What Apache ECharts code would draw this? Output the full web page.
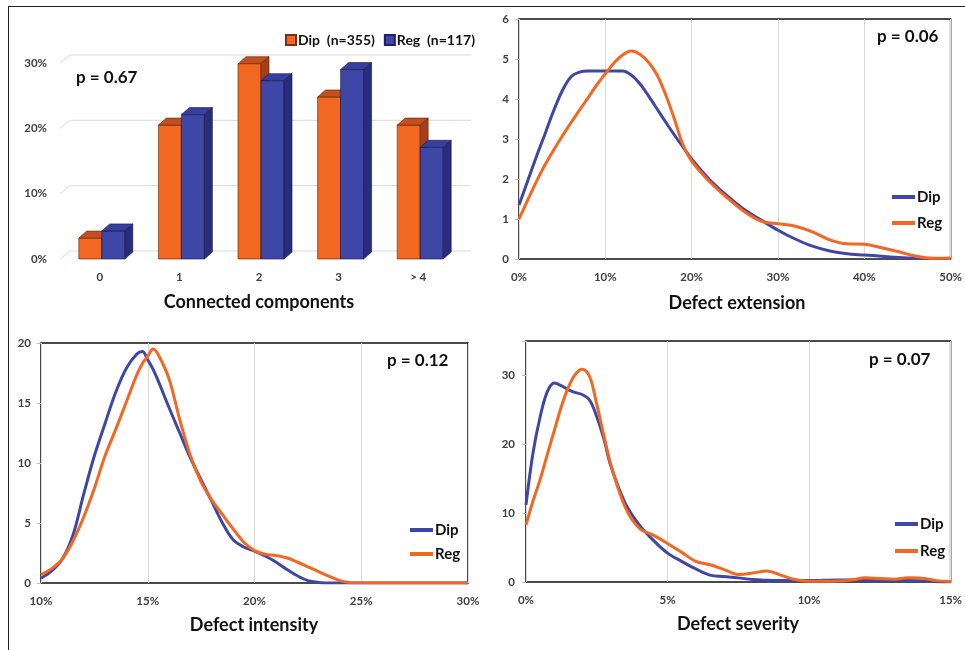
<!DOCTYPE html>
<html>
<head>
<meta charset="utf-8">
<script src="https://cdn.jsdelivr.net/npm/echarts@6/dist/echarts.min.js"></script>
<style>
  html, body { margin: 0; padding: 0; background: #fff; }
  #chart { position: absolute; left: 0; top: 0; width: 965px; height: 650px; }
  /* frame round the figure (top and left edges only, like the scan) */
  #frame { position: absolute; left: 8px; top: 6px; width: 957px; height: 644px;
           border-top: 1.5px solid #222; border-left: 1.5px solid #222; pointer-events: none; }
</style>
</head>
<body>
<div id="chart"></div>
<div id="frame"></div>
<script>
// ---- data ----
// connected components (share of patients, %)
const compCategories = ['0', '1', '2', '3', '> 4'];
const compDip = [3.2, 20.5, 29.9, 24.8, 20.5];
const compReg = [4.3, 22.1, 27.3, 29.0, 17.1];
const compTicks = [0, 10, 20, 30];

// defect extension (%), density
const extX = [0, 1, 2, 3, 4, 5, 6, 7, 8, 9, 10, 11, 12, 13, 14, 15, 16, 17, 18, 19, 20,
  22, 24, 26, 28, 30, 32, 34, 36, 38, 40, 42, 44, 46, 48, 50];
const extDip = [1.35, 1.95, 2.55, 3.12, 3.7, 4.2, 4.55, 4.67, 4.7, 4.7, 4.7, 4.7, 4.7, 4.6, 4.38,
  4.08, 3.75, 3.42, 3.1, 2.8, 2.5, 2.0, 1.6, 1.25, 0.98, 0.72, 0.5, 0.32, 0.2, 0.13, 0.1,
  0.07, 0.04, 0.02, 0.01, 0.02];
const extReg = [1.0, 1.47, 1.93, 2.35, 2.72, 3.07, 3.4, 3.72, 4.03, 4.35, 4.63, 4.9, 5.1, 5.2,
  5.12, 4.92, 4.6, 4.1, 3.5, 2.85, 2.45, 1.95, 1.55, 1.2, 0.95, 0.88, 0.82, 0.68, 0.48, 0.38,
  0.37, 0.28, 0.18, 0.07, 0.02, 0.02];

// defect intensity (%), density
const intX = [10, 10.5, 11, 11.5, 12, 12.5, 13, 13.5, 14, 14.5, 14.75, 15, 15.25, 15.5, 16, 16.5,
  17, 17.5, 18, 18.5, 19, 19.5, 20, 20.5, 21, 21.5, 22, 22.5, 23, 23.5, 24, 24.5, 25, 30];
const intDip = [0.4, 1.0, 2.0, 4.0, 7.4, 10.6, 13.3, 15.9, 17.9, 19.1, 19.3, 18.6, 17.8, 16.8,
  14.6, 12.5, 10.4, 8.6, 6.8, 5.0, 3.6, 3.0, 2.65, 2.25, 1.75, 1.15, 0.6, 0.2, 0.05, 0, 0, 0, 0, 0];
const intReg = [0.7, 1.2, 2.0, 3.5, 5.5, 7.9, 10.6, 12.8, 15.1, 17.4, 18.3, 18.9, 19.5, 19.0,
  17.0, 13.6, 10.6, 8.4, 6.9, 5.7, 4.5, 3.4, 2.7, 2.4, 2.3, 2.1, 1.75, 1.35, 0.95, 0.55, 0.2,
  0.03, 0, 0];

// defect severity (%), density
const sevX = [0, 0.25, 0.5, 0.75, 1, 1.25, 1.5, 1.75, 2, 2.25, 2.5, 2.75, 3, 3.5, 4, 4.5, 5, 5.5,
  6, 6.5, 7, 7.5, 8, 8.5, 9, 9.5, 10, 11, 11.5, 12, 12.5, 13, 13.5, 14, 14.5, 15];
const sevDip = [11.2, 18.8, 24.0, 27.6, 28.9, 28.5, 27.9, 27.5, 27.2, 26.4, 24.0, 20.8, 16.8,
  11.5, 8.3, 6.05, 4.2, 3.0, 1.9, 1.0, 0.8, 0.6, 0.35, 0.25, 0.2, 0.2, 0.2, 0.3, 0.3, 0.3, 0.25,
  0.2, 0.2, 0.15, 0.05, 0];
const sevReg = [8.3, 11.8, 14.9, 18.5, 22.0, 25.5, 28.3, 30.2, 30.9, 29.8, 25.8, 21.3, 17.0,
  10.9, 7.8, 6.8, 5.6, 4.3, 3.0, 2.5, 1.8, 1.1, 1.3, 1.6, 1.0, 0.35, 0.1, 0.15, 0.3, 0.6, 0.5,
  0.4, 0.6, 0.55, 0.2, 0.05];

// ---- styles ----
const FONT = 'Lato, "Open Sans", sans-serif';
const ORANGE = '#F26722';
const BLUE = '#3F47A6';
const BAR_W = 23;   // width of one bar front face
const DEPTH_X = 8;  // 3d depth of the bars
const DEPTH_Y = 7;

const axisLabel = { fontFamily: FONT, fontWeight: 'bold', fontSize: 11.5, color: '#404040' };

function pairs(xs, ys) { return xs.map((x, i) => [x, ys[i]]); }

function barRenderer(offset, front, top, side, edge) {
  return function (params, api) {
    const base = api.coord([api.value(0), 0]);
    const peak = api.coord([api.value(0), api.value(1)]);
    const x0 = base[0] + offset, x1 = x0 + BAR_W;
    const yb = base[1], yt = peak[1];
    const st = { stroke: edge, lineWidth: 0.6 };
    return {
      type: 'group',
      children: [
        { type: 'rect', shape: { x: x0, y: yt, width: BAR_W, height: yb - yt },
          style: Object.assign({ fill: front }, st) },
        { type: 'polygon', shape: { points: [[x0, yt], [x1, yt], [x1 + DEPTH_X, yt - DEPTH_Y], [x0 + DEPTH_X, yt - DEPTH_Y]] },
          style: Object.assign({ fill: top }, st) },
        { type: 'polygon', shape: { points: [[x1, yt], [x1 + DEPTH_X, yt - DEPTH_Y], [x1 + DEPTH_X, yb - DEPTH_Y], [x1, yb]] },
          style: Object.assign({ fill: side }, st) }
      ]
    };
  };
}

// back wall gridlines of the 3d bar chart
function wallRenderer(params, api) {
  const cs = params.coordSys;
  const y = api.coord([0, api.value(1)])[1];
  return {
    type: 'polyline',
    shape: { points: [[cs.x, y], [cs.x + 10, y - 8], [cs.x + cs.width + 13, y - 8]] },
    style: { stroke: '#d9d9d9', lineWidth: 1, fill: null }
  };
}

function lineSeries(name, color, idx, data) {
  return {
    name: name, type: 'line', xAxisIndex: idx, yAxisIndex: idx,
    data: data, smooth: 0.35, symbol: 'none',
    itemStyle: { color: color },
    lineStyle: { color: color, width: 3 }
  };
}

function lineLegend(left, top, gap) {
  return {
    data: ['Dip', 'Reg'], orient: 'vertical', left: left, top: top,
    icon: 'rect', itemWidth: 23, itemHeight: 4, itemGap: gap,
    textStyle: { fontFamily: FONT, fontWeight: 'bold', fontSize: 15, color: '#111', lineHeight: 18, padding: [0, 0, 0, -3] },
    selectedMode: false
  };
}

function textEl(text, x, y, size, align) {
  return {
    type: 'text', x: x, y: y, silent: true,
    style: { text: text, fill: '#111', font: 'bold ' + size + 'px ' + FONT,
             align: align || 'center', verticalAlign: 'middle' }
  };
}

const lineGrid = { show: true, borderColor: '#111', borderWidth: 1.5, backgroundColor: 'transparent' };
const vSplit = { show: true, lineStyle: { color: '#d9d9d9', width: 1 } };
const yTick = { show: true, length: 4, lineStyle: { color: '#bfbfbf' } };

const chart = echarts.init(document.getElementById('chart'));

chart.setOption({
  backgroundColor: '#fff',
  animation: false,
  grid: [
    { left: 60, top: 63, width: 398, height: 196 },
    Object.assign({ left: 519, top: 19, width: 432, height: 240 }, lineGrid),
    Object.assign({ left: 41, top: 343, width: 427, height: 240 }, lineGrid),
    Object.assign({ left: 526, top: 341, width: 425, height: 241 }, lineGrid)
  ],
  xAxis: [
    { gridIndex: 0, type: 'category', data: compCategories,
      axisLine: { show: false }, axisTick: { show: false },
      axisLabel: Object.assign({ margin: 12 }, axisLabel) },
    { gridIndex: 1, type: 'value', min: 0, max: 50, interval: 10,
      axisLine: { show: false }, axisTick: { show: false }, splitLine: vSplit,
      axisLabel: Object.assign({ margin: 12, formatter: '{value}%' }, axisLabel) },
    { gridIndex: 2, type: 'value', min: 10, max: 30, interval: 5,
      axisLine: { show: false }, axisTick: { show: false }, splitLine: vSplit,
      axisLabel: Object.assign({ margin: 12, formatter: '{value}%' }, axisLabel) },
    { gridIndex: 3, type: 'value', min: 0, max: 15, interval: 5,
      axisLine: { show: false }, axisTick: { show: false }, splitLine: vSplit,
      axisLabel: Object.assign({ margin: 12, formatter: '{value}%' }, axisLabel) }
  ],
  yAxis: [
    { gridIndex: 0, type: 'value', min: 0, max: 30, interval: 10,
      axisLine: { show: false }, axisTick: { show: false }, splitLine: { show: false },
      axisLabel: Object.assign({ margin: 13, formatter: '{value}%', padding: [6, 0, 0, 0] }, axisLabel) },
    { gridIndex: 1, type: 'value', min: 0, max: 6, interval: 1,
      axisLine: { show: false }, axisTick: yTick, splitLine: { show: false },
      axisLabel: Object.assign({ margin: 10 }, axisLabel) },
    { gridIndex: 2, type: 'value', min: 0, max: 20, interval: 5,
      axisLine: { show: false }, axisTick: yTick, splitLine: { show: false },
      axisLabel: Object.assign({ margin: 10 }, axisLabel) },
    { gridIndex: 3, type: 'value', min: 0, max: 35, interval: 10,
      axisLine: { show: false }, axisTick: yTick, splitLine: { show: false },
      axisLabel: Object.assign({ margin: 11, formatter: v => (v % 10 === 0 ? String(v) : '') }, axisLabel) }
  ],
  legend: [
    { data: ['Dip  (n=355)', 'Reg  (n=117)'], left: 280, top: 28, icon: 'rect',
      itemWidth: 10, itemHeight: 10, itemGap: 9, selectedMode: false,
      textStyle: { fontFamily: FONT, fontWeight: 'bold', fontSize: 14, color: '#111', padding: [0, 0, 0, -3] } },
    lineLegend(887, 183, 8),
    lineLegend(405, 516, 6),
    lineLegend(890, 510, 9)
  ],
  series: [
    { type: 'custom', xAxisIndex: 0, yAxisIndex: 0, z: 1, silent: true,
      data: compTicks.map(v => [0, v]), renderItem: wallRenderer },
    { name: 'Dip  (n=355)', type: 'custom', xAxisIndex: 0, yAxisIndex: 0, z: 2,
      itemStyle: { color: ORANGE, borderColor: '#7a3010', borderWidth: 1 },
      data: compDip.map((v, i) => [i, v]),
      renderItem: barRenderer(-21, ORANGE, '#C2501F', '#A63F19', '#5a230b') },
    { name: 'Reg  (n=117)', type: 'custom', xAxisIndex: 0, yAxisIndex: 0, z: 3,
      itemStyle: { color: BLUE, borderColor: '#1d2060', borderWidth: 1 },
      data: compReg.map((v, i) => [i, v]),
      renderItem: barRenderer(2, BLUE, '#383E9E', '#282C7C', '#161842') },

    lineSeries('Dip', BLUE, 1, pairs(extX, extDip)),
    lineSeries('Reg', ORANGE, 1, pairs(extX, extReg)),
    lineSeries('Dip', BLUE, 2, pairs(intX, intDip)),
    lineSeries('Reg', ORANGE, 2, pairs(intX, intReg)),
    lineSeries('Dip', BLUE, 3, pairs(sevX, sevDip)),
    lineSeries('Reg', ORANGE, 3, pairs(sevX, sevReg))
  ],
  graphic: [
    textEl('Connected components', 259, 302, 18),
    textEl('Defect extension', 737, 303, 18),
    textEl('Defect intensity', 254, 625, 18),
    textEl('Defect severity', 738, 624, 18),
    textEl('p = 0.67', 76, 78, 17, 'left'),
    textEl('p = 0.06', 877, 37, 17, 'left'),
    textEl('p = 0.12', 387, 361, 17, 'left'),
    textEl('p = 0.07', 869, 360, 17, 'left')
  ]
});
</script>
</body>
</html>
